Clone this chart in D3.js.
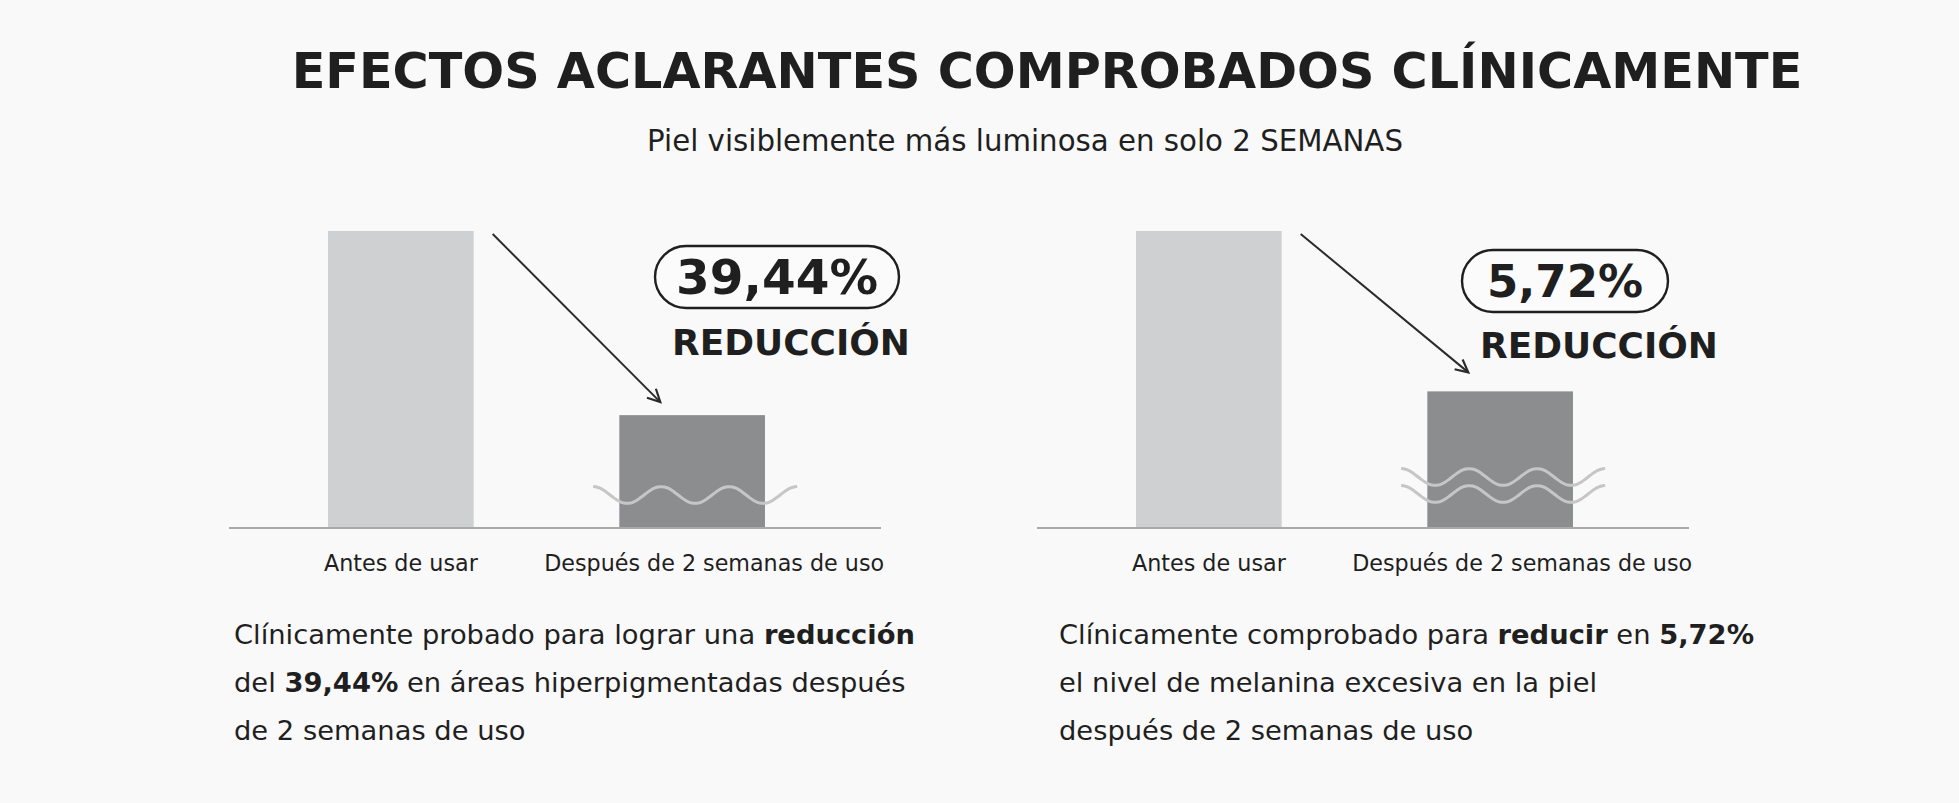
<!DOCTYPE html>
<html>
<head>
<meta charset="utf-8">
<script src="https://cdn.jsdelivr.net/npm/d3@7"></script>
<style>
  html, body { margin: 0; padding: 0; background: #f9f9f9; }
  svg { display: block; }
  text { font-family: "DejaVu Sans", sans-serif; fill: #1f1f1f; }
</style>
</head>
<body>
<div id="chart"></div>
<script>
const title = "EFECTOS ACLARANTES COMPROBADOS CLÍNICAMENTE";
const subtitle = "Piel visiblemente más luminosa en solo 2 SEMANAS";
const categories = ["Antes de usar", "Después de 2 semanas de uso"];
const leftValues = [100, 38];
const rightValues = [100, 46];
const badges = ["39,44%", "5,72%"];
const badgeWord = "REDUCCIÓN";
const waveCounts = [1, 2];
// description lines, each a list of [text, bold]
const leftNote = [
  [["Clínicamente probado para lograr una ", false], ["reducción", true]],
  [["del ", false], ["39,44%", true], [" en áreas hiperpigmentadas después", false]],
  [["de 2 semanas de uso", false]],
];
const rightNote = [
  [["Clínicamente comprobado para ", false], ["reducir", true], [" en ", false], ["5,72%", true]],
  [["el nivel de melanina excesiva en la piel", false]],
  [["después de 2 semanas de uso", false]],
];

const W = 1959, H = 803;
const svg = d3.select("#chart").append("svg").attr("width", W).attr("height", H);

// squeeze/grow font-size so the text covers the given width
function fit(sel, target) {
  const fs = parseFloat(sel.attr("font-size"));
  const w = sel.node().getComputedTextLength();
  sel.attr("font-size", (fs * target) / w);
  return sel;
}

fit(svg.append("text").attr("x", 1047).attr("y", 88).attr("text-anchor", "middle")
  .attr("font-size", 50).attr("font-weight", "bold").attr("fill", "#262626").text(title), 1511);

fit(svg.append("text").attr("x", 1025).attr("y", 151).attr("text-anchor", "middle")
  .attr("font-size", 26).attr("fill", "#333").text(subtitle), 756);

svg.append("defs").append("marker")
  .attr("id", "head")
  .attr("viewBox", "0 0 20 20")
  .attr("refX", 17).attr("refY", 10)
  .attr("markerWidth", 18).attr("markerHeight", 18)
  .attr("markerUnits", "userSpaceOnUse")
  .attr("orient", "auto")
  .append("path")
  .attr("d", "M3,3 L17,10 L3,17")
  .attr("fill", "none").attr("stroke", "#2b2b2b").attr("stroke-width", 2.4);

const panels = [
  { values: leftValues, badge: badges[0], waves: waveCounts[0], note: leftNote,
    x0: 229, badgeCx: 777, badgeCy: 277, wordY: 355, noteW: 681 },
  { values: rightValues, badge: badges[1], waves: waveCounts[1], note: rightNote,
    x0: 1037, badgeCx: 1565, badgeCy: 281, wordY: 358, noteW: 674 },
];
const tickWidths = [154, 340];

const y = d3.scaleLinear().domain([0, 100]).range([528, 231]);

let noteSize = null;

panels.forEach((p, pi) => {
  const g = svg.append("g");
  const x = d3.scaleBand().domain(categories).range([p.x0, p.x0 + 635])
    .paddingInner(0.5).paddingOuter(0.34);

  g.selectAll("rect.bar")
    .data(categories.map((c, i) => ({ c, v: p.values[i], i })))
    .join("rect")
    .attr("class", "bar")
    .attr("x", (d) => x(d.c))
    .attr("width", x.bandwidth())
    .attr("y", (d) => y(d.v))
    .attr("height", (d) => y(0) - y(d.v))
    .attr("fill", (d) => (d.i === 0 ? "#cfd0d1" : "#8b8d8e"));

  g.append("line")
    .attr("x1", p.x0).attr("x2", p.x0 + 652)
    .attr("y1", y(0)).attr("y2", y(0))
    .attr("stroke", "#a9a9a9").attr("stroke-width", 2);

  const axis = g.append("g")
    .attr("transform", `translate(0,${y(0) + 24})`)
    .call(d3.axisBottom(x).tickSize(0));
  axis.select(".domain").remove();
  axis.selectAll("text")
    .attr("font-family", "DejaVu Sans")
    .attr("font-size", 20)
    .attr("fill", "#1f1f1f")
    .attr("dy", "0.71em")
    .each(function (d, i) {
      fit(d3.select(this), tickWidths[i]);
      if (i === 1) d3.select(this).attr("dx", 22);
    });

  // waves on the second bar
  const cx = x(categories[1]) + x.bandwidth() / 2 + 3;
  const waveW = 204, amp = 8.5, periods = 3;
  for (let k = 0; k < p.waves; k++) {
    const cy = p.waves === 1 ? 495 : 477 + k * 17;
    const pts = d3.range(0, 61).map((j) => {
      const t = j / 60;
      return [cx - waveW / 2 + t * waveW, cy - amp * Math.cos(2 * Math.PI * periods * t)];
    });
    g.append("path")
      .attr("d", d3.line().curve(d3.curveBasis)(pts))
      .attr("fill", "none").attr("stroke", "#c6c6c6").attr("stroke-width", 3);
  }

  // arrow
  const x1 = x(categories[0]) + x.bandwidth() + 19;
  const x2 = x(categories[1]) + 41;
  g.append("line")
    .attr("x1", x1).attr("y1", y(p.values[0]) + 3)
    .attr("x2", x2).attr("y2", y(p.values[1]) - (pi === 0 ? 13 : 19))
    .attr("stroke", "#2b2b2b").attr("stroke-width", 2)
    .attr("marker-end", "url(#head)");

  // badge
  const bt = g.append("text")
    .attr("x", p.badgeCx).attr("y", p.badgeCy)
    .attr("text-anchor", "middle").attr("dominant-baseline", "central")
    .attr("font-size", 50).attr("font-weight", "bold").attr("fill", "#111")
    .text(p.badge);
  fit(bt, pi === 0 ? 202 : 156);
  const bw = bt.node().getComputedTextLength() + (pi === 0 ? 42 : 50);
  g.insert("rect", () => bt.node())
    .attr("x", p.badgeCx - bw / 2).attr("y", p.badgeCy - 31)
    .attr("width", bw).attr("height", 62).attr("rx", 31)
    .attr("fill", "#fbfbfb").attr("stroke", "#1f1f1f").attr("stroke-width", 2.4);

  fit(g.append("text")
    .attr("x", p.x0 + 562).attr("y", p.wordY)
    .attr("text-anchor", "middle")
    .attr("font-size", 34).attr("font-weight", "bold").attr("fill", "#111")
    .text(badgeWord), 238);

  // description
  const note = g.append("g");
  p.note.forEach((line, li) => {
    const t = note.append("text")
      .attr("x", p.x0 + 5 + (pi === 1 ? 17 : 0)).attr("y", 644 + li * 48)
      .attr("font-size", noteSize || 24).attr("fill", "#1f1f1f");
    line.forEach(([s, b]) => {
      t.append("tspan").attr("font-weight", b ? "bold" : "normal").text(s);
    });
    if (pi === 0 && li === 0) {
      fit(t, p.noteW);
      noteSize = parseFloat(t.attr("font-size"));
    }
  });
});
</script>
</body>
</html>
